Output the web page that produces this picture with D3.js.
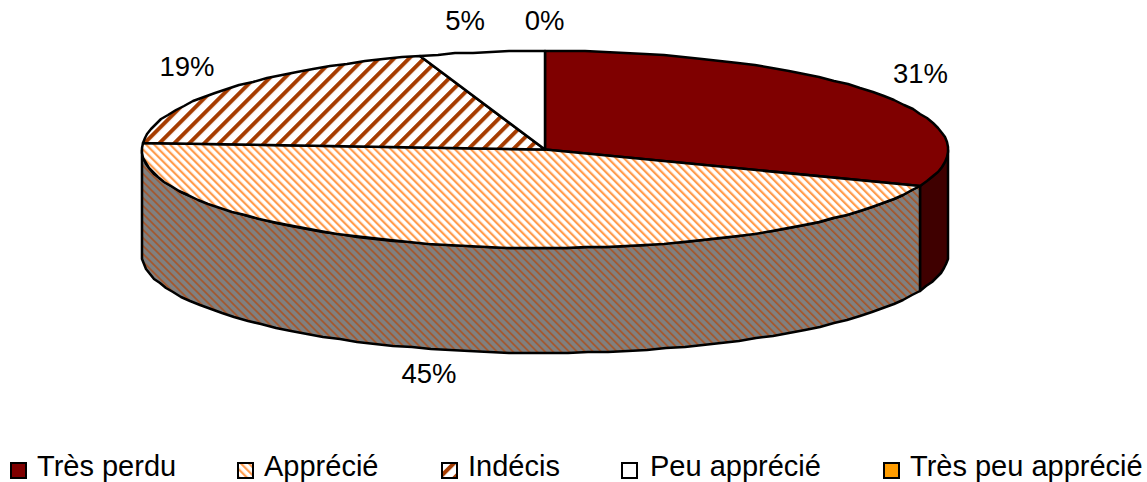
<!DOCTYPE html>
<html>
<head>
<meta charset="utf-8">
<script src="https://cdn.jsdelivr.net/npm/d3@7"></script>
<style>
html, body { margin: 0; padding: 0; background: #fff; }
svg { display: block; }
text { font-family: "Liberation Sans", Arial, sans-serif; fill: #000; }
</style>
</head>
<body>
<svg width="1147" height="482"></svg>
<script>
const categories = ["Très perdu", "Apprécié", "Indécis", "Peu apprécié", "Très peu apprécié"]
const values = [31, 45, 19, 5, 0]
const labels = ["31%", "45%", "19%", "5%", "0%"]

const svg = d3.select("svg")
const defs = svg.append("defs")

function stripes(id, bg, fg, period, w, angle) {
    const p = defs.append("pattern")
        .attr("id", id)
        .attr("patternUnits", "userSpaceOnUse")
        .attr("width", period)
        .attr("height", period)
        .attr("patternTransform", `rotate(${angle})`)
    p.append("rect").attr("width", period).attr("height", period).attr("fill", bg)
    p.append("rect").attr("width", w).attr("height", period).attr("fill", fg)
}
stripes("appr", "#fff", "#ff9c4e", 5.66, 2.2, -45)
stripes("appr-side", "#808080", "#a5562a", 5.66, 1.7, -45)
stripes("inde", "#fff", "#a63c00", 10.6, 4, 45)

const fills = ["#7f0000", "url(#appr)", "url(#inde)", "#fff", "#ff9c00"]
const sideFills = ["#3f0000", "url(#appr-side)", "#53200a", "#808080", "#804e00"]

// unit circle to the flattened ellipse on screen
const x = d3.scaleLinear().domain([-1, 1]).range([142, 948])
const y = d3.scaleLinear().domain([-1, 1]).range([51, 248])
const depth = 105

const arcs = d3.pie().sort(null).value(d => d)(values)

// the outline in the reference is a little rough, so keep whole pixels
const rim = (a0, a1, dy = 0) => {
    const n = Math.max(1, Math.ceil((a1 - a0) / 0.05))
    return d3.range(n + 1).map(i => {
        const a = a0 + (a1 - a0) * i / n
        return [Math.round(x(Math.sin(a))), Math.round(y(-Math.cos(a))) + dy]
    })
}
const line = d3.line()

// walls
svg.append("g").selectAll("path")
    .data(arcs.filter(d => d.endAngle > Math.PI / 2 && d.startAngle < 1.5 * Math.PI && d.value > 0))
    .enter().append("path")
    .attr("d", d => {
        const a0 = Math.max(d.startAngle, Math.PI / 2)
        const a1 = Math.min(d.endAngle, 1.5 * Math.PI)
        return line(rim(a0, a1).concat(rim(a0, a1, depth).reverse())) + "Z"
    })
    .attr("fill", d => sideFills[d.index])
    .attr("stroke", "#000")
    .attr("stroke-width", 2.5)
    .attr("stroke-linejoin", "round")

// top face
svg.append("g").selectAll("path")
    .data(arcs.filter(d => d.value > 0))
    .enter().append("path")
    .attr("d", d => line([[x(0), y(0)]].concat(rim(d.startAngle, d.endAngle))) + "Z")
    .attr("fill", d => fills[d.index])
    .attr("stroke", "#000")
    .attr("stroke-width", 2.5)
    .attr("stroke-linejoin", "round")

const labelX = [920.5, 429, 187, 465, 544.5]
const labelY = [83, 383, 76, 30, 30]
svg.append("g").selectAll("text")
    .data(labels)
    .enter().append("text")
    .attr("x", (d, i) => labelX[i])
    .attr("y", (d, i) => labelY[i])
    .attr("text-anchor", "middle")
    .attr("font-size", 27.5)
    .text(d => d)

const swatchX = [11, 238, 442, 622, 884]
const textX = [37, 264, 468, 650, 910]
const legend = svg.append("g")
legend.selectAll("rect")
    .data(categories)
    .enter().append("rect")
    .attr("x", (d, i) => swatchX[i])
    .attr("y", 463)
    .attr("width", 15)
    .attr("height", 15)
    .attr("fill", (d, i) => fills[i])
    .attr("stroke", "#000")
    .attr("stroke-width", 2)
legend.selectAll("text")
    .data(categories)
    .enter().append("text")
    .attr("x", (d, i) => textX[i])
    .attr("y", 475.5)
    .attr("font-size", 29)
    .text(d => d)
</script>
</body>
</html>
